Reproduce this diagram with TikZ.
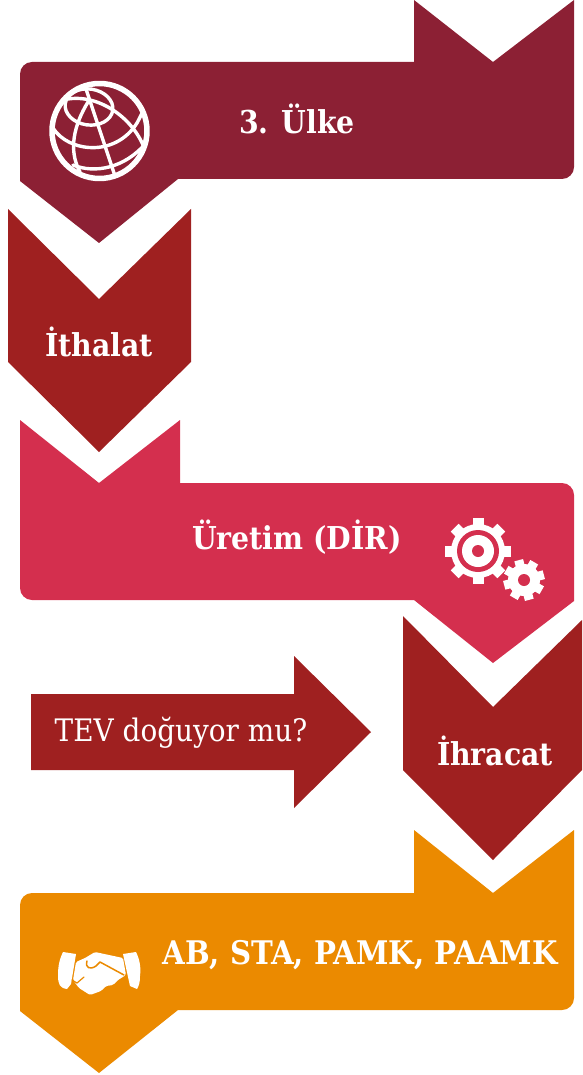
\documentclass[tikz,border=0pt]{standalone}
\usepackage{fontspec}
\setmainfont{DejaVu Serif Condensed}
\usepackage{xcolor}
\definecolor{winered}{HTML}{8C2034}
\definecolor{brickred}{HTML}{9F2020}
\definecolor{rosered}{HTML}{D42F4E}
\definecolor{amberorange}{HTML}{EB8A00}

% one toothed wheel: centre, tooth tip radius, body radius, tooth width, start angle
\newcommand{\gearwheel}[5]{
    \fill[white] (#1) circle (#3);
    \foreach \toothangle in {0,45,...,315}
        \fill[white, shift={(#1)}, rotate=\toothangle+#5]
            (#3-2,-#4/2) rectangle (#2,#4/2);
}

\begin{document}
\begin{tikzpicture}[
        x=1pt, y=-1pt,
        every node/.style={align=center, text=white},
        title/.style={font=\fontsize{31.5}{34}\selectfont\bfseries},
        plain/.style={font=\fontsize{31}{34}\selectfont},
        iconline/.style={draw=white, line width=3.4pt, line cap=round, line join=round}
    ]
        \useasboundingbox (0,0) rectangle (582,1075);

        % Top band
        \fill[winered] (414,0) -- (493,62) -- (574,0)
            [rounded corners=12pt] -- (574,179) [sharp corners] -- (178,179) -- (99,243) -- (20,181)
            [rounded corners=12pt] -- (20,62) [sharp corners] -- (414,62) -- cycle;
        \node[title] (ulke) at (297,119) {3. Ülke};

        % Import chevron
        \fill[brickred] (8,209) -- (99,299) -- (191,209) -- (191,362) -- (99,452) -- (8,362) -- cycle;
        \node[title] (ithalat) at (99,342) {İthalat};

        % Production band
        \fill[rosered] (20,420) -- (99,483) -- (180,420) -- (180,483)
            [rounded corners=12pt] -- (574,483) [sharp corners] -- (574,601) -- (493,663) -- (414,600)
            [rounded corners=12pt] -- (20,600) [sharp corners] -- cycle;
        \node[title] (uretim) at (297,537) {Üretim (DİR)};

        % Side arrow
        \fill[brickred] (31,694) -- (294,694) -- (294,656) -- (371,732) -- (294,808) -- (294,770) -- (31,770) -- cycle;
        \node[plain] (tev) at (181,733) {TEV doğuyor mu?};

        % Export chevron
        \fill[brickred] (403,616) -- (493,707) -- (582,620) -- (582,770) -- (493,860) -- (403,770) -- cycle;
        \node[title] (ihracat) at (495,751) {İhracat};

        % Bottom band
        \fill[amberorange] (414,830) -- (493,893) -- (574,830)
            [rounded corners=12pt] -- (574,1010) [sharp corners] -- (178,1010) -- (99,1073) -- (20,1011)
            [rounded corners=12pt] -- (20,893) [sharp corners] -- (414,893) -- cycle;
        \node[title, font=\fontsize{32.5}{34}\selectfont\bfseries] (anlasma) at (360,955) {AB, STA, PAMK, PAAMK};

        % Globe
        \draw[iconline, line width=5.5pt] (99.5,131) circle (47.5);
        \begin{scope}
            \clip (99.5,131) circle (48);
            \draw[iconline, rotate around={-8:(89,107)}] (89,107) ellipse (24 and 18);
            \draw[iconline] (85,86) -- (115,176);
            \draw[iconline] (88,102) .. controls (74,125) and (68,150) .. (80,172);
            \draw[iconline] (53,128) .. controls (68,152) and (115,158) .. (137,123) .. controls (143,112) and (146,105) .. (146,95);
            \draw[iconline] (63,100) .. controls (95,92) and (130,115) .. (143,145);
            \draw[iconline] (73,165) .. controls (95,174) and (125,168) .. (146,143);
        \end{scope}

        % Gears
        \gearwheel{478,551}{33}{27}{11}{0}
        \fill[rosered] (478,551) circle (21);
        \fill[white] (478,551) circle (16);
        \fill[rosered] (478,551) circle (6);
        \gearwheel{524,580}{20.5}{16}{9}{15}
        \fill[rosered] (524,580) circle (6);

        % Handshake
        \fill[white] (63,952) -- (76,954) -- (71,984) -- (67,989) .. controls (60,988) and (58,985) .. (58,975) .. controls (58,965) and (60,958) .. cycle;
        \fill[white] (123,954) -- (136,952) .. controls (140,960) and (141,968) .. (140,976) .. controls (140,982) and (139,986) .. (137,989) -- (130,986) -- cycle;
        \fill[white, rounded corners=1.5pt] (95,952) -- (123,958) -- (126,975) -- (118,980) -- (113,985) -- (106,986)
            -- (101,991) -- (90,995) -- (79,988) -- (73,980) -- (76,962) -- (85,958) -- cycle;
        \draw[amberorange, line width=1.5pt, line cap=round, line join=round]
            (87,961) .. controls (85,968) and (90,970) .. (96,966) -- (100,962) -- (124,975);
        \draw[amberorange, line width=1.2pt, line cap=round]
            (72,980) -- (77,983) -- (84,977);
\end{tikzpicture}
\end{document}
